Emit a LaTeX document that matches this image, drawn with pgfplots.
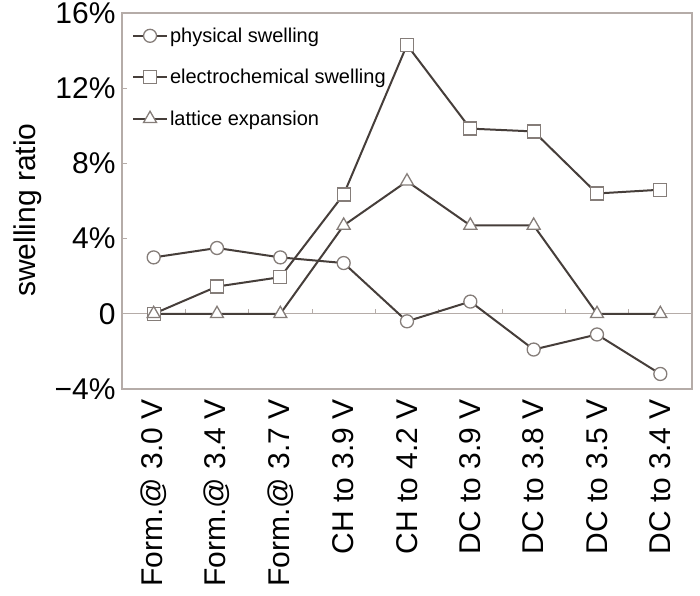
\documentclass[border=0pt]{standalone}
\usepackage{fontspec}
\setmainfont{Liberation Sans}
\usepackage{pgfplots}
\pgfplotsset{compat=1.18}

\definecolor{lineC}{HTML}{463E3A}
\definecolor{markC}{HTML}{857D79}
\definecolor{frameC}{HTML}{B5ACA8}

\newcommand{\mns}{\char"2212\relax}

\begin{document}
\begin{tikzpicture}
\begin{axis}[
    scale only axis,
    width=570bp,
    height=376bp,
    xmin=-0.5, xmax=8.5,
    ymin=-4, ymax=16,
    axis line style={frameC, line width=1.2pt},
    xtick={0,1,2,3,4,5,6,7,8},
    xticklabels={Form.@ 3.0 V, Form.@ 3.4 V, Form.@ 3.7 V, CH to 3.9 V, CH to 4.2 V,
                 DC to 3.9 V, DC to 3.8 V, DC to 3.5 V, DC to 3.4 V},
    x tick style={draw=none},
    xticklabel style={rotate=90, anchor=east, font=\fontsize{30bp}{35bp}\selectfont},
    xticklabel shift=7bp,
    ytick={-4,0,4,8,12,16},
    yticklabels={{\mns4\%}, 0, 4\%, 8\%, 12\%, 16\%},
    yticklabel style={font=\fontsize{30bp}{35bp}\selectfont},
    yticklabel shift=3bp,
    y tick style={frameC, line width=1pt},
    tick align=inside,
    ytick pos=left,
    major tick length=5bp,
    ylabel={swelling ratio},
    ylabel style={font=\fontsize{30bp}{35bp}\selectfont,
                  at={(axis description cs:0,0.476)}, anchor=center, yshift=94bp},
    legend style={draw=none, fill=none, at={(0.005,0.985)}, anchor=north west,
                  xshift=4bp, yshift=-5bp,
                  font=\fontsize{20bp}{24bp}\selectfont, row sep=21.5bp,
                  legend cell align=left},
    legend image code/.code={
        \draw[mark repeat=2, mark phase=2] plot coordinates {(0cm,0cm) (0.6cm,0cm) (1.2cm,0cm)};
    },
    every axis plot/.append style={lineC, line width=2bp,
        mark size=6.5bp, mark options={draw=markC, fill=white, line width=1.3pt, solid}},
    clip=false,
]

% zero line with small ticks at category boundaries
\draw[frameC, line width=1pt] (axis cs:-0.5,0) -- (axis cs:8.5,0);
\pgfplotsinvokeforeach{0.5,1.5,2.5,3.5,4.5,5.5,6.5,7.5}{
    \draw[frameC, line width=1pt] (axis cs:#1,0) -- ([yshift=5bp]axis cs:#1,0);
}

\addplot[mark=*] coordinates {
    (0,3.0) (1,3.5) (2,3.0) (3,2.7) (4,-0.4) (5,0.65) (6,-1.9) (7,-1.1) (8,-3.2)
};
\addlegendentry{physical swelling}

\addplot[mark=square*] coordinates {
    (0,0) (1,1.45) (2,1.95) (3,6.35) (4,14.3) (5,9.85) (6,9.7) (7,6.4) (8,6.6)
};
\addlegendentry{electrochemical swelling}

\addplot[mark=triangle*, mark size=7.5bp] coordinates {
    (0,0) (1,0) (2,0) (3,4.7) (4,7.05) (5,4.7) (6,4.7) (7,0) (8,0)
};
\addlegendentry{lattice expansion}

\end{axis}
\pgfresetboundingbox
\useasboundingbox ([xshift=-122bp, yshift=-206bp]current axis.south west)
    rectangle ([xshift=8bp, yshift=13bp]current axis.north east);
\end{tikzpicture}
\end{document}
